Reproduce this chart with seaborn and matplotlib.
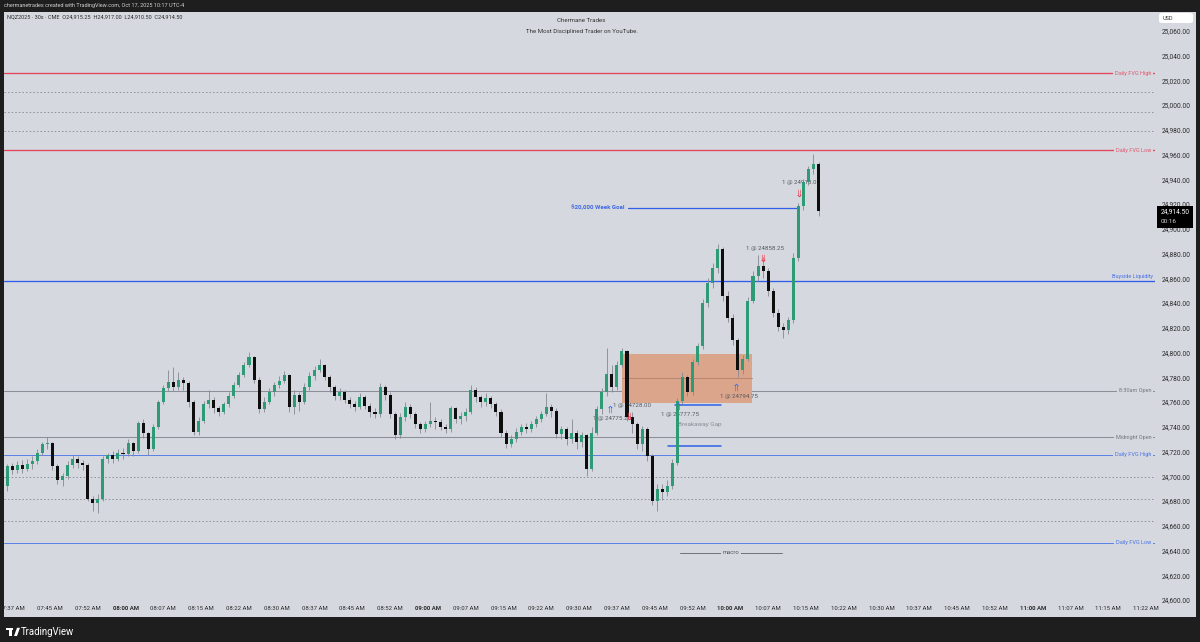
import matplotlib
matplotlib.use("Agg")
import matplotlib.pyplot as plt
import matplotlib.transforms as mtrans
from matplotlib.patches import Rectangle, FancyBboxPatch, Polygon
import numpy as np
import pandas as pd
import seaborn as sns

# ---------------- data ----------------
session_start = "07:36"
bar_minutes = 1.0
open0 = 24692.0
closes = [
    24708, 24705, 24709, 24706, 24710, 24712, 24719, 24726, 24727, 24708,
    24697, 24700, 24709, 24714, 24711, 24709, 24682, 24678, 24682, 24714,
    24717, 24714, 24719, 24718, 24727, 24720, 24743, 24735, 24722, 24740,
    24760, 24771, 24776, 24772, 24778, 24775, 24760, 24736, 24745, 24758,
    24762, 24755, 24752, 24758, 24765, 24774, 24782, 24790, 24796, 24778,
    24754, 24760, 24768, 24774, 24777, 24782, 24756, 24766, 24760, 24772,
    24781, 24786, 24790, 24780, 24772, 24765, 24768, 24762, 24758, 24756,
    24764, 24757, 24752, 24750, 24772, 24766, 24750, 24733, 24748, 24756,
    24750, 24742, 24738, 24742, 24745, 24744, 24740, 24738, 24755, 24746,
    24749, 24752, 24770, 24764, 24760, 24763, 24758, 24752, 24735, 24726,
    24730, 24736, 24740, 24738, 24742, 24746, 24750, 24756, 24753, 24734,
    24738, 24730, 24735, 24728, 24733, 24706, 24735, 24754, 24768, 24783,
    24772, 24790, 24801, 24748, 24742, 24726, 24738, 24716, 24680, 24690,
    24687, 24692, 24711, 24761, 24780, 24768, 24792, 24805, 24840, 24856,
    24868, 24884, 24846, 24828, 24810, 24786, 24795, 24842, 24862, 24870,
    24866, 24850, 24832, 24821, 24818, 24826, 24876, 24918, 24938, 24948,
    24952, 24914.5]
highs = [
    24710, 24711, 24712, 24713, 24714, 24716, 24722, 24728, 24732, 24728,
    24710, 24703, 24712, 24717, 24716, 24713, 24711, 24684, 24686, 24716,
    24719, 24720, 24722, 24723, 24730, 24728, 24745, 24746, 24736, 24742,
    24762, 24774, 24786, 24788, 24784, 24780, 24777, 24762, 24748, 24761,
    24770, 24764, 24757, 24760, 24768, 24776, 24784, 24792, 24800, 24797,
    24780, 24764, 24771, 24776, 24781, 24785, 24783, 24770, 24768, 24775,
    24784, 24789, 24795, 24791, 24782, 24774, 24771, 24770, 24764, 24761,
    24767, 24766, 24759, 24755, 24775, 24774, 24768, 24752, 24751, 24760,
    24758, 24752, 24744, 24745, 24760, 24748, 24746, 24742, 24757, 24756,
    24752, 24755, 24774, 24772, 24766, 24767, 24765, 24760, 24754, 24737,
    24733, 24739, 24742, 24743, 24745, 24749, 24753, 24767, 24758, 24755,
    24741, 24740, 24746, 24737, 24736, 24734, 24740, 24757, 24771, 24804,
    24790, 24793, 24804, 24802, 24752, 24744, 24741, 24740, 24718, 24694,
    24694, 24697, 24714, 24763, 24784, 24782, 24795, 24808, 24843, 24860,
    24872, 24888, 24885, 24850, 24831, 24812, 24798, 24845, 24866, 24879,
    24877, 24868, 24852, 24835, 24824, 24829, 24880, 24921, 24940, 24951,
    24960, 24954]
lows = [
    24688, 24702, 24703, 24703, 24704, 24706, 24710, 24717, 24722, 24705,
    24694, 24692, 24698, 24707, 24707, 24705, 24680, 24672, 24670, 24680,
    24711, 24711, 24712, 24714, 24716, 24716, 24719, 24731, 24717, 24720,
    24738, 24758, 24769, 24769, 24770, 24770, 24756, 24733, 24733, 24743,
    24755, 24751, 24749, 24750, 24756, 24763, 24772, 24780, 24788, 24775,
    24751, 24752, 24758, 24765, 24771, 24775, 24752, 24750, 24753, 24758,
    24770, 24778, 24784, 24778, 24768, 24762, 24762, 24759, 24755, 24753,
    24754, 24754, 24748, 24747, 24748, 24762, 24747, 24730, 24731, 24745,
    24747, 24739, 24735, 24736, 24740, 24738, 24737, 24735, 24736, 24743,
    24742, 24745, 24750, 24760, 24756, 24757, 24755, 24749, 24732, 24723,
    24724, 24728, 24733, 24735, 24736, 24740, 24744, 24749, 24748, 24731,
    24730, 24725, 24727, 24722, 24724, 24700, 24704, 24733, 24750, 24765,
    24768, 24770, 24788, 24745, 24735, 24722, 24720, 24712, 24677, 24672,
    24681, 24684, 24690, 24709, 24758, 24765, 24766, 24790, 24803, 24837,
    24852, 24864, 24842, 24825, 24806, 24780, 24783, 24793, 24840, 24858,
    24860, 24846, 24829, 24817, 24812, 24815, 24824, 24874, 24915, 24935,
    24944, 24910.5]

# key levels
level_names = ["Daily FVG High", "Daily FVG Low", "Buyside Liquidity",
               "8:30am Open", "Midnight Open", "Daily FVG High", "Daily FVG Low"]
level_prices = [25025.6, 24963.6, 24857.8, 24768.9, 24731.7, 24717.2, 24646.3]
level_kinds = ["red", "red", "liq", "gray", "gray", "blue", "blue"]
quadrant_prices = [25010.1, 24994.6, 24979.1, 24699.5, 24681.8, 24664.0]

week_goal_label = "$20,000 Week Goal"
week_goal_price = 24916.8
week_goal_span = ["09:39:40", "10:13:10"]

gap_label = "Breakaway Gap"
gap_span = ["09:38:30", "10:04:20"]
gap_low, gap_high = 24759.2, 24798.8
gap_lines_price = [24757.6, 24724.4]
gap_lines_start = ["09:49:00", "09:47:35"]
gap_lines_end = "09:58:05"

macro_label = "macro"
macro_span = ["09:50:00", "10:10:10"]
macro_price = 24638.0

# executions (arrows) and fill labels
exec_times = ["09:36:05", "09:39:55", "09:49:35", "10:01:05", "10:06:30", "10:13:35"]
exec_prices = [24754.3, 24748.7, 24756.8, 24772.1, 24876.4, 24928.9]
exec_sides = ["buy", "sell", "buy", "buy", "sell", "sell"]
fill_labels = ["1 @ 24775.25", "1 @ 24728.00", "1 @ 24777.75",
               "1 @ 24794.75", "1 @ 24858.25", "1 @ 24918.00"]
fill_times = ["09:32:50", "09:36:40", "09:46:20", "09:57:55", "10:03:05", "10:10:10"]
fill_prices = [24746.3, 24756.8, 24749.5, 24764.8, 24884.4, 24937.0]

price_ticks = list(range(24600, 25061, 20))
time_tick_start, time_tick_step, time_tick_count = "07:37:30", 7.5, 31

header_left = "chermanetrades created with TradingView.com, Oct 17, 2025 10:17 UTC-4"
symbol_line = "NQZ2025 · 30s · CME  O24,915.25  H24,917.00  L24,910.50  C24,914.50"
title_1 = "Chermane Trades"
title_2 = "The Most Disciplined Trader on YouTube."
countdown = "00:16"


def tmin(s):
    p = [int(v) for v in s.split(":")]
    while len(p) < 3:
        p.append(0)
    return p[0] * 60 + p[1] + p[2] / 60.0


# ---------------- style ----------------
sns.set_theme(style="white")
plt.rcParams['font.family'] = ['Roboto', 'DejaVu Sans']

DARK = "#1e1e1e"
BG = "#d5d8df"
GREEN = "#2f9a76"
BLACK = "#0e0e0e"
WICK = "#858892"
RED = "#e2445a"
BLUE = "#2f5fe8"
LBLUE = "#5a80e6"
GRAY = "#8c8f97"
TXT = "#2a2a2a"

W, H = 1200, 642
fig = plt.figure(figsize=(12, 6.42), dpi=100, facecolor=DARK)
fig.patches.append(Rectangle((4 / W, 1 - 617 / H), 1192 / W, 605 / H,
                             transform=fig.transFigure, facecolor=BG,
                             edgecolor='none', zorder=-10))
ax = fig.add_axes([4 / W, 1 - 602 / H, 1151 / W, 590 / H])
ax.set_zorder(2)
ax.set_facecolor(BG)
for s in ax.spines.values():
    s.set_visible(False)

n = len(closes)
t0 = tmin(session_start)
df = pd.DataFrame({
    "time": t0 + bar_minutes * (np.arange(n) + 0.5),
    "close": closes, "high": highs, "low": lows})
df["open"] = [open0] + closes[:-1]
df["high"] = df[["high", "open", "close"]].max(axis=1)
df["low"] = df[["low", "open", "close"]].min(axis=1)
df["up"] = df["close"] >= df["open"]

XLIM = (455.89, 684.26)
YLIM = (24598.38, 25075.15)

# horizontal levels
for p in quadrant_prices:
    ax.axhline(p, color=GRAY, lw=0.7, ls=(0, (1.5, 2.2)), zorder=1)

styles = {"red": (RED, 0.95), "liq": (BLUE, 0.95), "gray": (GRAY, 0.75), "blue": (LBLUE, 0.7)}
lab_tr = mtrans.blended_transform_factory(ax.transAxes, ax.transData)
for name, p, kind in zip(level_names, level_prices, level_kinds):
    col, lw = styles[kind]
    ax.axhline(p, color=col, lw=lw, zorder=1)
    tcol = {"red": "#e0566a", "liq": "#4a72e8", "gray": "#74777e", "blue": "#4a72e8"}[kind]
    if kind == "liq":
        ax.text(0.9983, p + 1.6, name, transform=lab_tr,
                ha="right", va="bottom", fontsize=4.0, color=tcol, zorder=6)
    else:
        ax.text(0.9968, p, name, transform=lab_tr,
                ha="right", va="center", fontsize=4.0, color=tcol, zorder=6,
                bbox=dict(boxstyle="square,pad=0.3", fc=BG, ec="none"))

# breakaway gap box
gx0, gx1 = tmin(gap_span[0]), tmin(gap_span[1])
ax.add_patch(Rectangle((gx0, gap_low), gx1 - gx0, gap_high - gap_low,
                       facecolor="#dba58b", edgecolor="none", zorder=1.5))
ax.plot([gx0, gx1], [(gap_low + gap_high) / 2] * 2, color="#b98570", lw=0.7, zorder=1.6)
ax.text(tmin("09:54:00"), 24742.2, gap_label, ha="center", va="center",
        fontsize=4.6, color="#8a8d95", zorder=2)
for p, s in zip(gap_lines_price, gap_lines_start):
    ax.plot([tmin(s), tmin(gap_lines_end)], [p, p], color=BLUE, lw=1.1, zorder=2)

# week goal
wx0, wx1 = tmin(week_goal_span[0]), tmin(week_goal_span[1])
ax.plot([wx0, wx1], [week_goal_price] * 2, color=BLUE, lw=0.9, zorder=2)
ax.text(wx0 - 0.6, week_goal_price, week_goal_label, ha="right", va="center",
        fontsize=4.4, color="#3f68e6", fontweight="bold", zorder=2)

# macro
mx0, mx1 = tmin(macro_span[0]), tmin(macro_span[1])
ax.plot([mx0, mx1], [macro_price] * 2, color="#6e7178", lw=0.7, zorder=1)
ax.text((mx0 + mx1) / 2, macro_price, macro_label, ha="center", va="center",
        fontsize=4.2, color="#55585f", zorder=2,
        bbox=dict(boxstyle="square,pad=0.3", fc=BG, ec="none"))

# fill labels (under candles)
for lab, t, p in zip(fill_labels, fill_times, fill_prices):
    ax.text(tmin(t), p, lab, ha="left", va="center", fontsize=4.4, color="#55585f", zorder=2.5)

# candles
cols = np.where(df["up"], GREEN, BLACK)
ax.vlines(df["time"], df["low"], df["high"], colors=WICK, lw=0.6, zorder=3)
body_lo = df[["open", "close"]].min(axis=1)
body_h = (df["close"] - df["open"]).abs().clip(lower=0.6)
ax.bar(df["time"], body_h, bottom=body_lo, width=0.6 * bar_minutes, color=cols,
       linewidth=0, zorder=4)

# execution arrows
ex = pd.DataFrame({"time": [tmin(t) for t in exec_times], "price": exec_prices, "side": exec_sides})
buys = ex[ex.side == "buy"]
sells = ex[ex.side == "sell"]
sns.scatterplot(data=buys, x="time", y="price", marker=r"$\Uparrow$", s=28, color="#3a6ef0",
                linewidth=0, ax=ax, zorder=5, legend=False)
sns.scatterplot(data=sells, x="time", y="price", marker=r"$\Downarrow$", s=28, color="#ee3b50",
                linewidth=0, ax=ax, zorder=5, legend=False)
ax.set_xlabel("")
ax.set_ylabel("")
ax.set_xlim(*XLIM)
ax.set_ylim(*YLIM)

# price axis on the right
ax.yaxis.tick_right()
ax.set_yticks(price_ticks)
ax.set_yticklabels([f"{v:,.2f}" for v in price_ticks], fontsize=4.7, color=TXT)
ax.tick_params(axis="y", length=0, pad=5)
ax.tick_params(axis="x", length=0, labelbottom=False)
ax.set_xticks([])

# time axis labels
tb = mtrans.blended_transform_factory(ax.transData, ax.transAxes)
clip = Rectangle((4 / W, 0), 1192 / W, 1, transform=fig.transFigure, visible=False)
fig.patches.append(clip)
tt0 = tmin(time_tick_start)
for i in range(time_tick_count):
    t = tt0 + i * time_tick_step
    hh, mm = int(t // 60), int(t % 60)
    lab = f"{hh:02d}:{mm:02d} AM"
    bold = (mm == 0 and abs(t - round(t)) < 1e-6)
    txt = ax.text(t, -0.0102, lab, transform=tb, ha="center", va="center", fontsize=4.3,
                  color=TXT, fontweight="bold" if bold else "normal", clip_on=False)
    txt.set_clip_path(clip)

# last price box
lb = mtrans.blended_transform_factory(fig.transFigure, ax.transData)
last = closes[-1]
ax.add_patch(Rectangle((1157 / W, last - 13.9), 36 / W, 17.8, transform=lb,
                       facecolor="#000000", edgecolor="none", clip_on=False, zorder=7))
ax.text(1175 / W, last - 1.0, f"{last:,.2f}", transform=lb, ha="center", va="center",
        fontsize=4.8, color="white", clip_on=False, zorder=8)
ax.text(1161 / W, last - 9.0, countdown, transform=lb, ha="left", va="center",
        fontsize=4.6, color="#d8d8d8", clip_on=False, zorder=8)

# header / titles
fig.text(4 / W, 1 - 5.5 / H, header_left, fontsize=3.95, color="#cfcfcf", va="center")
fig.text(7 / W, 1 - 17 / H, symbol_line, fontsize=3.95, color=TXT, va="center", zorder=5)
fig.text(581.5 / W, 1 - 20.5 / H, title_1, fontsize=4.4, color="#333333", ha="center", va="center", zorder=5)
fig.text(581.5 / W, 1 - 31 / H, title_2, fontsize=4.4, color="#333333", ha="center", va="center", zorder=5)
fig.patches.append(FancyBboxPatch((1159 / W, 1 - 23 / H), 34 / W, 10 / H,
                                  boxstyle="round,pad=0,rounding_size=0.003",
                                  transform=fig.transFigure, facecolor="white",
                                  edgecolor="none", zorder=5))
fig.text(1163 / W, 1 - 18 / H, "USD", fontsize=4.0, color="#333333", va="center", zorder=6)

# footer logo
fig.patches.append(Rectangle((6 / W, 1 - 630 / H), 7 / W, 2.2 / H, transform=fig.transFigure,
                             facecolor="white", edgecolor="none"))
fig.patches.append(Rectangle((9 / W, 1 - 636 / H), 3 / W, 6 / H, transform=fig.transFigure,
                             facecolor="white", edgecolor="none"))
fig.patches.append(Polygon([(14 / W, 1 - 636 / H), (17 / W, 1 - 636 / H),
                            (20 / W, 1 - 627.8 / H), (17 / W, 1 - 627.8 / H)],
                           closed=True, transform=fig.transFigure, facecolor="white", edgecolor="none"))
fig.text(21 / W, 1 - 632 / H, "TradingView", fontsize=6.9, color="white", va="center")

fig.savefig("out.png", dpi=100, facecolor=DARK)
